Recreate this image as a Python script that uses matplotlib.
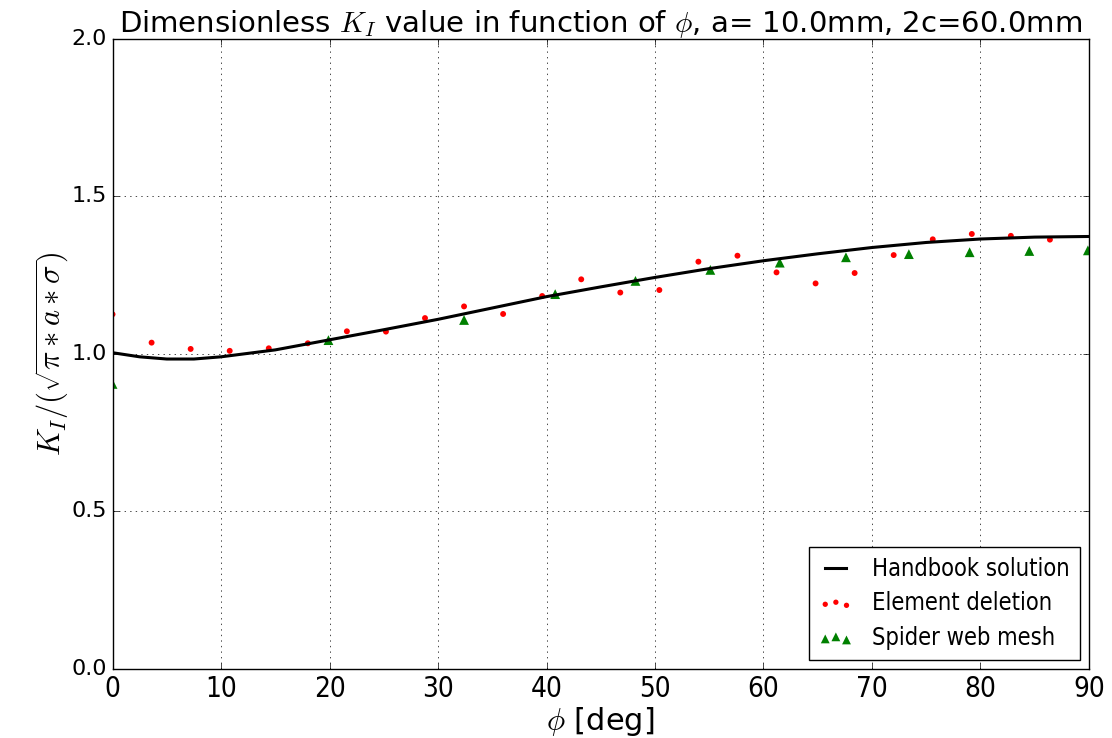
import matplotlib
matplotlib.use("Agg")
import matplotlib.pyplot as plt

# handbook solution
phi_hb = [0, 2.5, 5, 7.5, 10, 15, 20, 25, 30, 35, 40, 45, 50, 55, 60, 65, 70, 75, 80, 85, 90]
k_hb = [1.004, 0.991, 0.984, 0.984, 0.991, 1.013, 1.045, 1.077, 1.110, 1.146, 1.182,
        1.213, 1.243, 1.271, 1.296, 1.318, 1.338, 1.354, 1.365, 1.371, 1.373]

# element deletion results
phi_ed = [0, 3.6, 7.2, 10.8, 14.4, 18.0, 21.6, 25.2, 28.8, 32.4, 36.0, 39.6, 43.2,
          46.8, 50.4, 54.0, 57.6, 61.2, 64.8, 68.4, 72.0, 75.6, 79.2, 82.8, 86.4]
k_ed = [1.126, 1.036, 1.016, 1.010, 1.018, 1.034, 1.072, 1.071, 1.114, 1.151, 1.127,
        1.184, 1.237, 1.195, 1.203, 1.293, 1.312, 1.259, 1.224, 1.257, 1.314, 1.364,
        1.381, 1.375, 1.363]

# spider web mesh results
phi_sw = [0, 19.9, 32.4, 40.8, 48.2, 55.1, 61.5, 67.6, 73.4, 79.0, 84.5, 89.9]
k_sw = [0.905, 1.044, 1.108, 1.190, 1.232, 1.267, 1.290, 1.307, 1.317, 1.323, 1.327, 1.329]

x_ticks = [0, 10, 20, 30, 40, 50, 60, 70, 80, 90]
y_ticks = [0.0, 0.5, 1.0, 1.5, 2.0]


def main():
    plt.style.use('classic')

    fig = plt.figure(figsize=(11.12, 7.38), dpi=100)
    ax = fig.add_axes([0.1012, 0.0935, 0.8781, 0.8537])

    ax.plot(phi_hb, k_hb, 'k-', lw=2.2, label='Handbook solution')
    ax.scatter(phi_ed, k_ed, s=18, c='r', edgecolors='none', label='Element deletion')
    ax.scatter(phi_sw, k_sw, s=50, c='g', marker='^', edgecolors='none',
               label='Spider web mesh')

    ax.set_xlim(0, 90)
    ax.set_ylim(0, 2.0)
    ax.set_xticks(x_ticks)
    ax.set_yticks(y_ticks)
    for lab in ax.get_xticklabels():
        lab.set_fontsize(20)
        lab.set_fontstretch('condensed')
    ax.tick_params(axis='y', labelsize=16)
    ax.grid(True)

    ax.set_title(r'Dimensionless $K_I$ value in function of $\phi$, a= 10.0mm, 2c=60.0mm',
                 fontsize=21)
    ax.set_xlabel(r'$\phi$ [deg]', fontsize=22, labelpad=2)
    ax.set_ylabel(r'$K_I/(\sqrt{\pi*a*\sigma})$', fontsize=22, labelpad=0)

    ax.legend(loc='lower right', scatterpoints=3, markerscale=0.9,
              handlelength=1.5, borderaxespad=0.4, labelspacing=0.45,
              prop={'size': 17, 'stretch': 'condensed'})

    fig.savefig('out.png', dpi=100)


if __name__ == "__main__":
    main()
